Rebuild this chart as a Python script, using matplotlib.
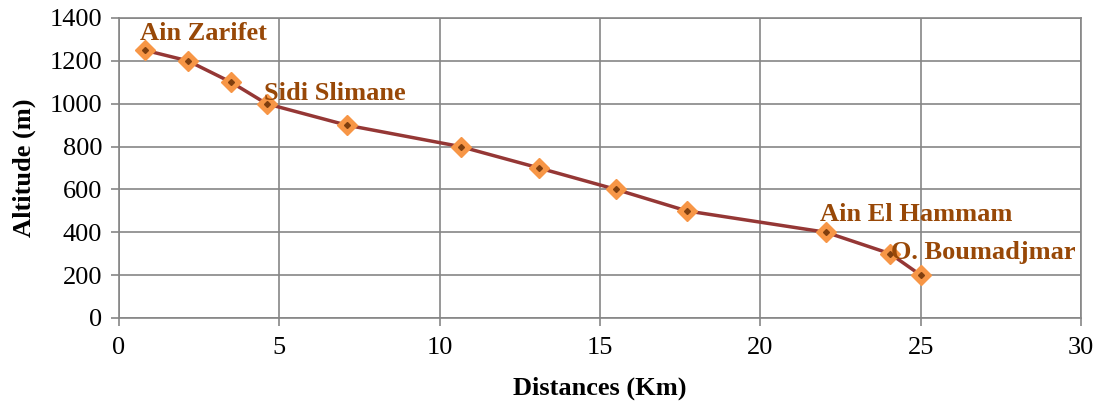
import matplotlib
matplotlib.use("Agg")
import matplotlib.pyplot as plt

# Longitudinal profile
distances_km = [0.8, 2.15, 3.5, 4.6, 7.1, 10.65, 13.1, 15.5, 17.7, 22.05, 24.05, 25.0]
altitudes_m = [1250, 1200, 1100, 1000, 900, 800, 700, 600, 500, 400, 300, 200]

# label -> (index of point, offset in pixels)
place_labels = ["Ain Zarifet", "Sidi Slimane", "Ain El Hammam", "O. Boumadjmar"]
place_idx = [0, 3, 9, 10]
place_offsets = [(-5, 17), (-3, 10), (-6, 18), (1, 1)]

GRID = "#868686"
LINE = "#953735"
MARK = "#F79646"
TEXT = "#984807"

plt.rcParams["font.family"] = ["Liberation Serif", "DejaVu Serif"]

fig = plt.figure(figsize=(10.98, 4.01), dpi=100)
ax = fig.add_axes([119 / 1098, 83 / 401, 962 / 1098, 300 / 401])

ax.plot(distances_km, altitudes_m, color=LINE, lw=2.5, zorder=3)
ax.plot(distances_km, altitudes_m, ls="none", marker="D", ms=10,
        mfc=MARK, mec=MARK, zorder=4)
ax.plot(distances_km, altitudes_m, ls="none", marker="D", ms=3,
        mfc="#7f3f0f", mec="#7f3f0f", zorder=5)

for name, i, off in zip(place_labels, place_idx, place_offsets):
    ax.annotate(name, xy=(distances_km[i], altitudes_m[i]), xytext=off,
                textcoords="offset pixels", ha="left", va="center",
                fontsize=19, fontweight="bold", color=TEXT, zorder=6,
                annotation_clip=False)

ax.set_xlim(0, 30)
ax.set_ylim(0, 1400)
ax.set_xticks(range(0, 31, 5))
ax.set_yticks(range(0, 1401, 200))
ax.grid(True, color=GRID, lw=1.2)
ax.set_axisbelow(True)
for s in ax.spines.values():
    s.set_color(GRID)
    s.set_linewidth(1.2)
ax.tick_params(axis="both", colors=GRID, labelcolor="black", labelsize=19,
               length=6, width=1.2)
ax.tick_params(axis="y", pad=6)
ax.tick_params(axis="x", pad=8)

ax.set_xlabel("Distances (Km)", fontsize=19, fontweight="bold", labelpad=12)
ax.set_ylabel("Altitude (m)", fontsize=19, fontweight="bold", labelpad=10)

fig.savefig("out.png", dpi=100)
